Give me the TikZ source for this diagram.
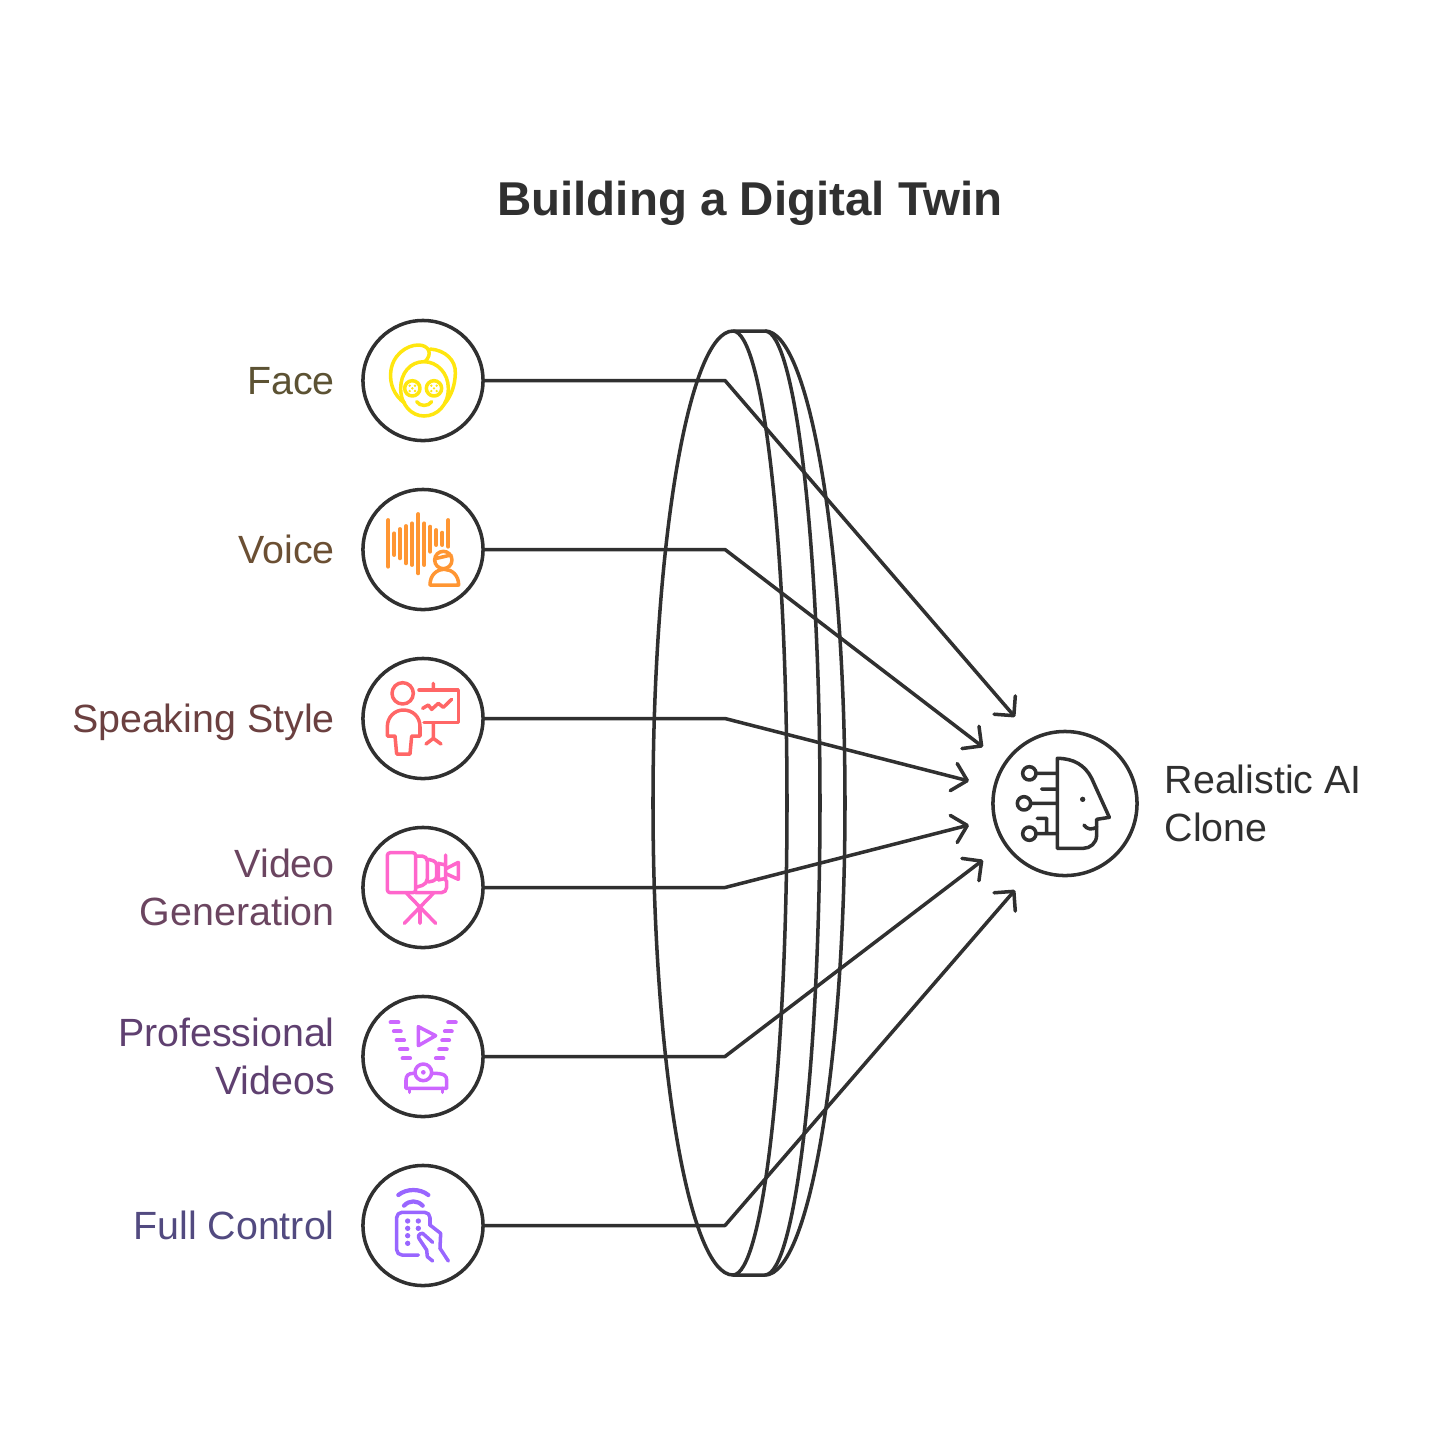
\documentclass[tikz,border=0pt]{standalone}
\usepackage{fontspec}
\setmainfont{Liberation Sans}
\usetikzlibrary{arrows.meta}
\definecolor{ink}{RGB}{48,48,48}
\definecolor{faceic}{RGB}{255,230,15}
\definecolor{voiceic}{RGB}{255,150,51}
\definecolor{speakic}{RGB}{255,102,102}
\definecolor{videoic}{RGB}{255,102,204}
\definecolor{proic}{RGB}{204,102,255}
\definecolor{ctrlic}{RGB}{153,102,255}
\definecolor{facetx}{RGB}{92,82,51}
\definecolor{voicetx}{RGB}{107,79,51}
\definecolor{speaktx}{RGB}{107,64,64}
\definecolor{videotx}{RGB}{107,69,96}
\definecolor{protx}{RGB}{95,64,112}
\definecolor{ctrltx}{RGB}{82,74,128}
\tikzset{
  ring/.style={circle,draw=ink,line width=1pt,inner sep=0pt,outer sep=0pt,minimum size=1.2cm},
  lbl/.style={font=\fontsize{11.2pt}{13.75pt}\selectfont,align=right,anchor=east,inner sep=0pt,text depth=0pt},
  icn/.style={line width=1pt,line cap=round,line join=round}
}
\begin{document}
\begin{tikzpicture}[x=0.01cm,y=-0.01cm,line width=1pt,>={Straight Barb[length=1.4mm,width=2.8mm,round]}]
  \useasboundingbox (0,0) rectangle (1450,1450);
  \node[font=\fontsize{13.5pt}{16pt}\selectfont\bfseries,text=ink,inner sep=0pt] (title) at (750,203) {Building a Digital Twin};
  % the six sources, with knee and arrow end of each line
  \foreach \n/\y/\c/\t/\ex/\ey in {face/380.5/facetx/Face/1015/717,voice/549.5/voicetx/Voice/983/747,speak/718.5/speaktx/Speaking Style/969/781,video/887.5/videotx/{Video\\Generation}/969/825,pro/1056.5/protx/{Professional\\Videos}/983/860,ctrl/1225.5/ctrltx/Full Control/1015/890} {
    \node[ring] (\n) at (423,\y) {};
    \node[lbl,text=\c] (\n-lbl) at (336.5,\y) {\t};
    \coordinate (\n-k) at (725,\y);
    \coordinate (\n-e) at (\ex,\ey);
    \draw[ink,->,line join=round] (\n.east) -- (\n-k) -- (\n-e);
  }
  % lens
  \draw[ink] (765,331) -- (733,331) .. controls (689,331) and (653,543) .. (653,803) .. controls (653,1063) and (689,1275) .. (733,1275) -- (765,1275);
  \draw[ink] (733,331) .. controls (763,331) and (787,543) .. (787,803) .. controls (787,1063) and (763,1275) .. (733,1275);
  \draw[ink] (765,331) .. controls (795,331) and (820,543) .. (820,803) .. controls (820,1063) and (795,1275) .. (765,1275);
  \draw[ink] (765,331) .. controls (809,331) and (845,543) .. (845,803) .. controls (845,1063) and (809,1275) .. (765,1275);
  % target
  \node[ring,minimum size=1.44cm] (clone) at (1065,803.5) {};
  \node[lbl,anchor=west,align=left,text=ink] (clone-lbl) at (1163,803) {Realistic AI\\Clone};
  % icons, in crop pixels
  \begin{scope}[shift={(350,310)},scale=1/3,icn]
    \draw[faceic] (222,155) .. controls (180,155) and (152,190) .. (152,235) .. controls (152,285) and (185,318) .. (222,318) .. controls (262,318) and (295,285) .. (295,235) .. controls (295,190) and (262,155) .. (222,155);
    \draw[faceic] (165,280) .. controls (130,255) and (120,220) .. (122,190) .. controls (125,135) and (170,105) .. (205,105) .. controls (235,105) and (250,130) .. (225,155);
    \draw[faceic] (240,117) .. controls (285,120) and (318,150) .. (316,190) .. controls (315,225) and (305,255) .. (285,280);
    \draw[faceic] (187,235) circle (23) (252,235) circle (23);
    \foreach \a/\b in {187/235,252/235} {
      \fill[faceic] (\a-8,\b-8) circle (4) (\a+8,\b-8) circle (4) (\a,\b) circle (4) (\a-8,\b+8) circle (4) (\a+8,\b+8) circle (4);
    }
    \draw[faceic] (200,275) .. controls (210,290) and (235,290) .. (245,275);
    \foreach \x/\a/\b in {115/630/770,133/670/735,150/657/745,168/648/760,186/640/765,205/612/790,223/640/765,241/650/725,259/660/705,277/668/705,295/630/710} {
      \draw[voiceic,line width=1.1pt] (\x,\a) -- (\x,\b);
    }
    \draw[voiceic] (280,750) circle (26) (260,745) -- (303,735);
    \draw[voiceic] (240,825) -- (326,825) .. controls (326,795) and (305,778) .. (283,778) .. controls (260,778) and (240,795) .. (240,825);
  \end{scope}
  \begin{scope}[shift={(350,650)},scale=1/3,icn]
    \draw[speakic] (158,130) circle (32);
    \draw[speakic] (112,258) -- (112,230) .. controls (112,200) and (135,180) .. (160,180) .. controls (188,180) and (210,200) .. (210,230) -- (210,258) -- (185,258) -- (180,312) -- (140,312) -- (135,258) -- cycle;
    \draw[speakic] (207,120) -- (325,120) -- (325,218) -- (222,218);
    \draw[speakic] (250,100) -- (250,120) (250,218) -- (250,265) (228,282) -- (250,265) -- (273,282);
    \draw[speakic] (218,175) -- (235,165) -- (245,178) -- (265,160) -- (280,172) -- (305,148);
    \draw[videoic,rounded corners=0.8pt] (112,608) rectangle (197,728);
    \draw[videoic,rounded corners=1.5pt] (197,618) -- (232,618) -- (232,702) -- (197,712);
    \draw[videoic,rounded corners=1pt] (235,628) -- (260,635) -- (260,690) -- (235,696);
    \draw[videoic] (265,640) -- (287,645) (265,690) -- (287,685) (265,640) -- (265,690) (287,615) -- (287,692);
    \draw[videoic] (290,655) -- (325,637) -- (325,688) -- (290,672);
    \draw[videoic,rounded corners=1.5pt] (197,728) -- (290,728) -- (290,692);
    \draw[videoic] (163,820) -- (250,730) (257,820) -- (170,730) (210,770) -- (210,820);
  \end{scope}
  \begin{scope}[shift={(350,985)},scale=1/3,icn]
    \foreach \x/\a/\b in {122/145/112,132/152/139,140/162/166,150/172/193,158/180/220,295/317/112,285/305/139,277/297/166,268/290/193,258/280/220} {
      \draw[proic,line width=1.2pt] (\x,\b) -- (\a,\b);
    }
    \draw[proic] (205,125) -- (257,152) -- (205,182) -- cycle;
    \draw[proic] (220,262) circle (25);
    \fill[proic] (220,262) circle (7);
    \draw[proic] (190,265) .. controls (175,265) and (168,272) .. (168,285) -- (168,310) -- (290,310) -- (290,285) .. controls (290,272) and (283,265) .. (250,265);
    \draw[proic] (178,310) -- (178,322) (278,310) -- (278,322);
    \draw[ctrlic,line width=1.2pt] (145,630) .. controls (170,610) and (210,610) .. (235,630);
    \draw[ctrlic,line width=1.2pt] (162,662) .. controls (178,645) and (202,645) .. (218,662);
    \draw[ctrlic,rounded corners=1.5pt] (205,810) -- (140,810) -- (140,682) -- (240,682) -- (240,722);
    \foreach \x/\y in {173/708,173/730,173/752,173/775,205/708,205/730} {
      \fill[ctrlic] (\x,\y) circle (8);
    }
    \draw[ctrlic] (295,828) -- (270,790) -- (272,745) -- (240,720);
    \draw[ctrlic] (248,772) -- (218,745) .. controls (205,745) and (203,755) .. (208,762) -- (230,795) -- (232,815) -- (248,828);
  \end{scope}
  \begin{scope}[shift={(950,690)},scale=1/3,line width=1pt,line cap=round,line join=round]
    \draw[ink] (322,205) .. controls (370,205) and (405,225) .. (425,265) -- (478,382) -- (440,388) -- (440,435) .. controls (440,460) and (420,475) .. (400,475) -- (322,475) -- cycle;
    \fill[ink] (398,328) circle (8);
    \draw[ink] (402,405) .. controls (410,418) and (425,420) .. (440,412);
    \draw[ink] (238,250) circle (20) (258,250) -- (322,250) (275,297) -- (322,297);
    \draw[ink] (222,340) circle (20) (242,340) -- (322,340);
    \draw[ink] (238,431) circle (20) (258,431) -- (322,431) (290,431) -- (290,385) -- (262,385);
  \end{scope}
\end{tikzpicture}
\end{document}
